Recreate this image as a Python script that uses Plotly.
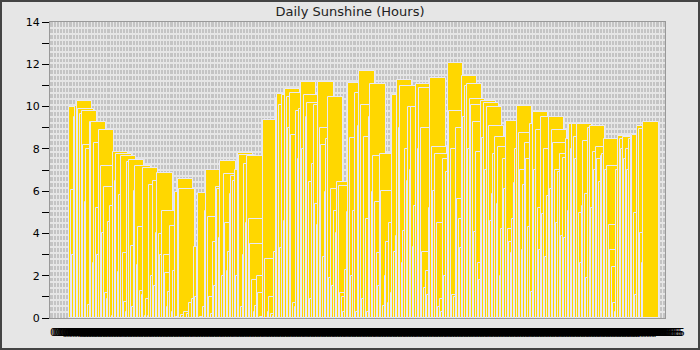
import plotly.graph_objects as go
import pandas as pd

# Daily sunshine hours, one value per day
sunshine = [
    10.0, 6.05, 3.0, 9.5, 10.05, 10.25, 9.9, 9.66, 9.78, 8.2,
    5.5, 8.0, 0.61, 9.27, 9.25, 2.59, 8.28, 5.19, 2.98, 8.87,
    7.19, 4.0, 6.2, 1.17, 0.9, 4.56, 5.3, 0.1, 7.84, 6.5,
    7.74, 2.19, 5.8, 7.68, 3.07, 0.77, 0.3, 7.38, 7.47, 3.4,
    0.5, 6.0, 7.19, 2.5, 4.29, 1.3, 1.1, 7.1, 0.1, 0.9,
    0.1, 6.3, 2.0, 6.48, 1.5, 4.0, 6.84, 3.97, 3.0, 5.06,
    2.96, 2.14, 0.5, 1.23, 4.37, 0.3, 2.2, 5.95, 0.05, 6.56,
    6.09, 0.14, 0.05, 0.3, 0.0, 0.2, 0.7, 0.0, 0.9, 3.38,
    1.0, 3.38, 5.93, 0.05, 0.05, 0.5, 5.06, 7.0, 4.77, 1.0,
    0.2, 3.61, 1.5, 6.2, 6.09, 3.8, 7.44, 2.0, 6.8, 4.5,
    2.2, 3.1, 5.87, 6.7, 6.5, 7.0, 2.0, 7.79, 7.73, 0.5,
    3.0, 7.28, 4.5, 7.66, 4.67, 3.5, 1.8, 0.3, 0.55, 2.0,
    1.17, 0.05, 0.0, 9.35, 2.78, 0.0, 0.3, 1.0, 0.2, 0.1,
    3.1, 10.42, 10.6, 10.06, 3.31, 10.55, 4.59, 10.85, 10.44, 9.0,
    10.63, 8.64, 0.7, 0.5, 9.8, 7.5, 9.89, 11.15, 8.0, 10.53,
    9.5, 10.16, 6.45, 0.9, 7.28, 10.06, 5.39, 4.4, 11.15, 9.0,
    8.18, 2.87, 5.97, 8.45, 10.44, 1.88, 6.1, 1.5, 5.06, 4.0,
    6.45, 6.26, 1.17, 1.0, 0.3, 2.27, 5.0, 11.13, 8.5, 2.0,
    5.06, 10.63, 0.3, 9.07, 11.67, 10.06, 0.9, 8.56, 4.7, 0.3,
    9.5, 11.06, 5.97, 7.68, 5.5, 3.06, 1.5, 7.76, 6.0, 0.55,
    2.0, 3.61, 0.7, 4.5, 1.17, 10.53, 3.1, 3.9, 11.24, 9.0,
    10.97, 2.6, 4.1, 8.0, 6.5, 9.97, 7.0, 9.97, 3.36, 5.3,
    11.06, 8.0, 10.88, 9.0, 3.1, 1.4, 2.2, 1.1, 5.2, 11.34,
    8.09, 6.0, 7.74, 4.5, 0.5, 0.9, 0.3, 7.5, 2.0, 6.9,
    12.05, 9.79, 8.0, 1.1, 1.0, 9.0, 5.65, 4.67, 3.3, 11.43,
    9.5, 10.96, 11.06, 8.0, 10.36, 10.06, 9.26, 4.08, 7.84, 2.59,
    1.8, 10.26, 8.5, 10.16, 7.0, 9.97, 9.07, 4.59, 5.87, 7.76,
    8.55, 5.37, 8.07, 2.0, 4.2, 7.5, 6.1, 9.34, 4.2, 3.58,
    3.07, 4.67, 6.38, 8.0, 10.05, 8.74, 7.0, 3.2, 6.27, 8.26,
    7.5, 4.3, 9.18, 1.25, 9.76, 7.0, 8.87, 5.19, 3.2, 9.53,
    4.9, 8.0, 2.87, 5.75, 9.53, 6.1, 8.87, 8.26, 7.0, 4.5,
    6.9, 7.74, 3.9, 7.55, 3.78, 8.45, 5.06, 9.16, 8.0, 9.16,
    8.55, 7.5, 9.16, 4.95, 2.6, 5.3, 8.37, 5.86, 1.88, 8.97,
    9.07, 5.19, 7.84, 7.0, 8.07, 7.5, 6.45, 7.68, 7.76, 8.45,
    7.0, 7.19, 4.4, 3.2, 2.4, 0.7, 0.3, 7.0, 8.63, 8.45,
    8.0, 8.55, 7.5, 8.0, 7.0, 8.45, 8.72, 8.64, 4.95, 1.1,
    9.06, 8.96, 4.0, 2.6, 9.25,
]

day_index = list(range(len(sunshine)))
day_labels = [d.strftime("%m/%d/%Y") for d in pd.date_range("2015-01-01", periods=len(sunshine))]
y_tick_values = list(range(0, 15))
y_tick_labels = [str(v) if v % 2 == 0 else "" for v in y_tick_values]

BAR_W = 9.7
FONT = "DejaVu Sans"

fig = go.Figure(
    go.Bar(
        x=day_index,
        y=sunshine,
        width=BAR_W,
        offset=0,
        marker=dict(color="#ffd700", line=dict(color="#e8e8f6", width=1)),
        hoverinfo="x+y",
    )
)

L, R, T, B = 50, 35, 22, 32
PW, PH = 700 - L - R, 350 - T - B

fig.update_layout(
    width=700,
    height=350,
    margin=dict(l=L, r=R, t=T, b=B, pad=0),
    paper_bgcolor="#e6e6e6",
    plot_bgcolor="#c4c4c4",
    showlegend=False,
    bargap=0,
    title=dict(
        text="Daily Sunshine (Hours)",
        x=0.5, xref="container", xanchor="center",
        y=1 - 11.5 / 350, yref="container", yanchor="middle",
        font=dict(family=FONT, size=13, color="#222222"),
    ),
    xaxis=dict(
        range=[-12.04, 377.8],
        tickmode="array",
        tickvals=[i + 7.2 for i in day_index],
        ticktext=day_labels,
        tickangle=0,
        ticks="outside",
        ticklen=4,
        tickcolor="rgba(0,0,0,0)",
        tickfont=dict(family=FONT, size=10.5, color="#000000"),
        showgrid=False,
        zeroline=False,
        showline=True,
        mirror=True,
        linecolor="#999999",
        linewidth=1,
        minor=dict(tickmode="linear", tick0=0, dtick=2, showgrid=True,
                   gridcolor="#e6e6e6", gridwidth=1, ticks=""),
    ),
    yaxis=dict(
        range=[0, 14],
        tickmode="array",
        tickvals=y_tick_values,
        ticktext=y_tick_labels,
        ticks="outside",
        ticklen=7,
        tickcolor="#000000",
        tickfont=dict(family=FONT, size=11, color="#000000"),
        showgrid=False,
        zeroline=False,
        showline=True,
        mirror=True,
        linecolor="#999999",
        linewidth=1,
        minor=dict(tickmode="linear", tick0=0, dtick=0.28, showgrid=True,
                   gridcolor="#e6e6e6", gridwidth=2, ticks=""),
    ),
    shapes=[
        dict(
            type="rect", xref="paper", yref="paper",
            x0=-L / PW, x1=1 + R / PW, y0=-B / PH, y1=1 + T / PH,
            line=dict(color="#444444", width=4),
            fillcolor="rgba(0,0,0,0)", layer="above",
        )
    ],
)

fig.write_html("out.html")
